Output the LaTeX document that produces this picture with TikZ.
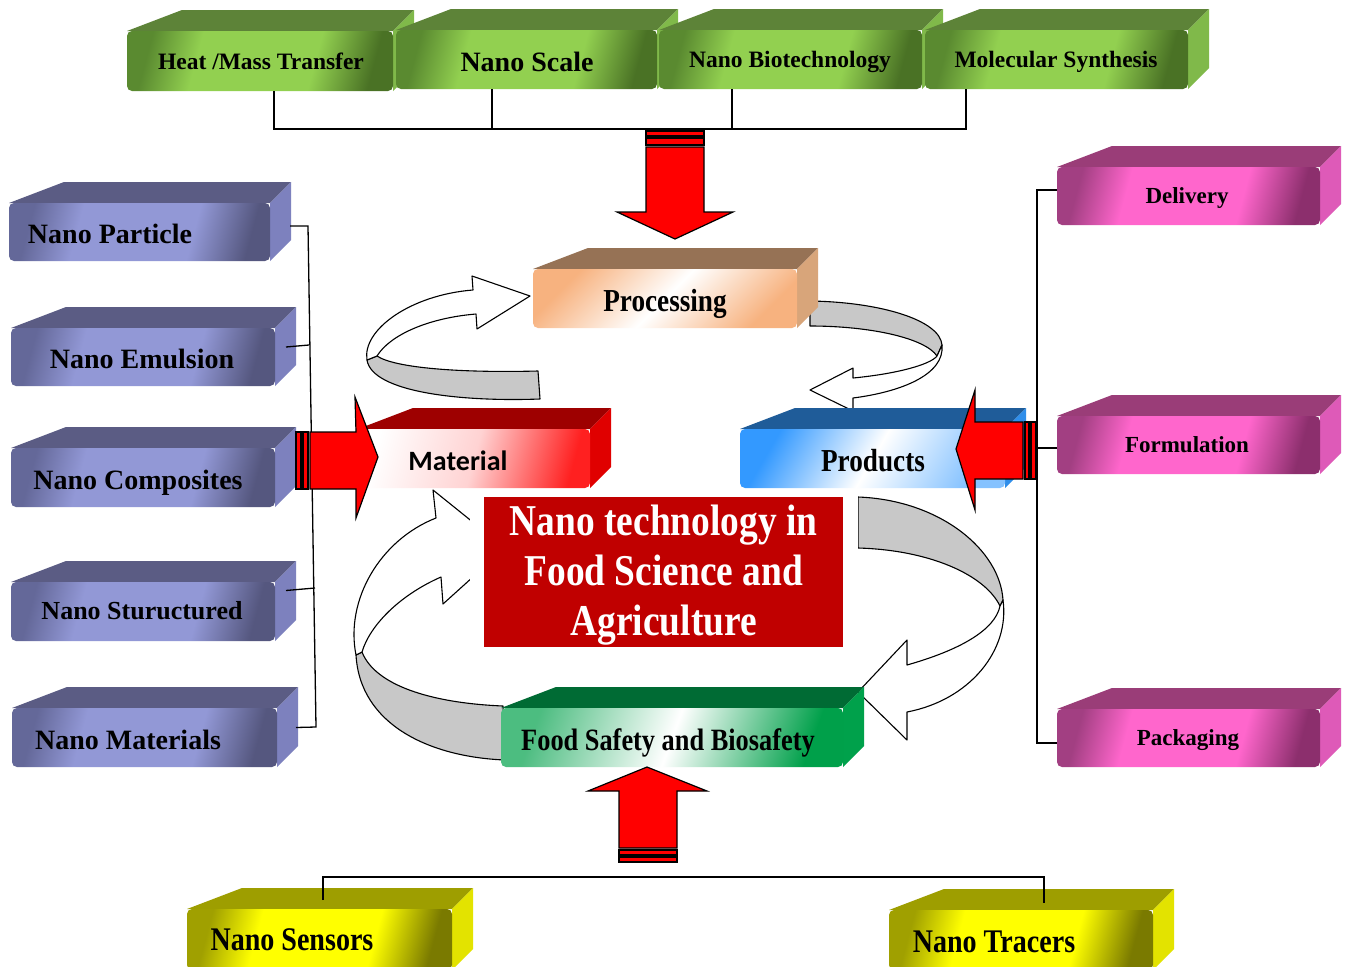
\documentclass[tikz,border=0pt]{standalone}
\usepackage{fontspec}
\setmainfont{Liberation Serif}
\newfontfamily\condfont{Liberation Serif}[FakeStretch=0.85]
\newfontfamily\calfont{Carlito}
\usetikzlibrary{calc}
% colours
\definecolor{gTop}{HTML}{5D8338}\definecolor{gSide}{HTML}{80B94A}\definecolor{gL}{HTML}{92D050}\definecolor{gD}{HTML}{5A8A30}\definecolor{gE}{HTML}{4A7225}
\definecolor{pTop}{HTML}{5B5C84}\definecolor{pSide}{HTML}{7D81BE}\definecolor{pL}{HTML}{9298D6}\definecolor{pD}{HTML}{646899}\definecolor{pE}{HTML}{55577F}
\definecolor{kTop}{HTML}{9A3D78}\definecolor{kSide}{HTML}{DE5AB8}\definecolor{kL}{HTML}{FF66CC}\definecolor{kD}{HTML}{A23F82}\definecolor{kE}{HTML}{8C2F6D}
\definecolor{yTop}{HTML}{9E9E00}\definecolor{ySide}{HTML}{E3E300}\definecolor{yL}{HTML}{FFFF00}\definecolor{yD}{HTML}{A0A000}\definecolor{yE}{HTML}{7A7A00}
\definecolor{oTop}{HTML}{967255}\definecolor{oSide}{HTML}{D8A57A}\definecolor{oL}{HTML}{F7B27F}
\definecolor{rTop}{HTML}{9E0000}\definecolor{rSide}{HTML}{E00000}\definecolor{rL}{HTML}{FF2020}
\definecolor{bTop}{HTML}{1F5C99}\definecolor{bSide}{HTML}{2F8EEA}\definecolor{bL}{HTML}{3399FF}
\definecolor{fTop}{HTML}{006B34}\definecolor{fSide}{HTML}{00A14B}\definecolor{fL}{HTML}{00A04A}
\definecolor{cRed}{HTML}{C00000}
\definecolor{ribGray}{HTML}{C8C8C8}
\pgfdeclarehorizontalshading{gsh}{100bp}{color(0bp)=(gD); color(25bp)=(gD); color(36bp)=(gL); color(62bp)=(gL); color(75bp)=(gE); color(100bp)=(gE)}
\pgfdeclarehorizontalshading{psh}{100bp}{color(0bp)=(pD); color(25bp)=(pD); color(36bp)=(pL); color(62bp)=(pL); color(75bp)=(pE); color(100bp)=(pE)}
\pgfdeclarehorizontalshading{ksh}{100bp}{color(0bp)=(kD); color(25bp)=(kD); color(36bp)=(kL); color(62bp)=(kL); color(75bp)=(kE); color(100bp)=(kE)}
\pgfdeclarehorizontalshading{ysh}{100bp}{color(0bp)=(yD); color(25bp)=(yD); color(36bp)=(yL); color(62bp)=(yL); color(75bp)=(yE); color(100bp)=(yE)}
% 3D box: name, x1, y1, x2, y2, family
\newcommand\cubebox[6]{%
  \fill[#6Top] (#2,#3) -- (#2+55,#3-21) -- (#4+21,#3-21) -- (#4,#3) -- cycle;
  \fill[#6Side] (#4,#3) -- (#4+21,#3-21) -- (#4+21,#5-21) -- (#4,#5) -- cycle;
  \node[#6front, anchor=north west, inner sep=0pt, outer sep=0pt,
        minimum width={#4-#2}, minimum height={#5-#3}] (#1) at (#2,#3) {};
}
\begin{document}
\begin{tikzpicture}[x=1pt,y=-1pt,
  gfront/.style={shading=gsh, shading angle=-15, rounded corners=5pt},
  pfront/.style={shading=psh, shading angle=-15, rounded corners=5pt},
  kfront/.style={shading=ksh, shading angle=-15, rounded corners=5pt},
  yfront/.style={shading=ysh, shading angle=-15, rounded corners=5pt},
  ofront/.style={left color=oL, right color=oL, middle color=white, shading angle=45, rounded corners=5pt},
  rfront/.style={left color=white, right color=rL, middle color=white!80!rL, shading angle=75, rounded corners=5pt},
  bfront/.style={left color=bL, right color=bL!60!white, middle color=white, shading angle=60, rounded corners=5pt},
  ffront/.style={left color=fL!70!white, right color=fL, middle color=white, shading angle=70, rounded corners=5pt},
  txt/.style={anchor=base, inner sep=0pt, text=black},
  conn/.style={draw=black, line width=1.3pt},
  ribbon/.style={fill=white, draw=black, line width=1.1pt, line join=round},
  ribbongray/.style={fill=ribGray, draw=black, line width=1.1pt, line join=round},
  blockarrow/.style={fill=red, draw=black, line width=1.2pt, line join=miter},
]
\useasboundingbox (0,0) rectangle (1345,967);
\fill[white] (0,0) rectangle (1345,967);

% ---------- curved ribbon arrows ----------
% upper left (Material -> Processing)
\path[ribbongray] (367,360) .. controls (372,392) and (460,402) .. (540,399) -- (538,371)
   .. controls (460,373) and (395,368) .. (377,356) -- cycle;
\path[ribbon] (473,290) -- (472,276) -- (530,296) -- (477,329) -- (476,314)
   .. controls (428,318) and (390,335) .. (377,356) -- (367,360)
   .. controls (362,330) and (410,295) .. (473,290) -- cycle;
% upper right (Processing -> Products)
\path[ribbongray] (810,301) .. controls (880,302) and (940,320) .. (942,345) -- (937,356)
   .. controls (925,338) and (870,326) .. (810,326) -- cycle;
\path[ribbon] (942,345) .. controls (945,375) and (900,392) .. (853,398) -- (853,411) -- (810,390)
   -- (853,368) -- (853,378) .. controls (895,374) and (930,365) .. (937,356) -- cycle;
% lower left (Food Safety -> Material)
\path[ribbongray] (356,655) .. controls (360,725) and (430,757) .. (505,760) -- (503,706)
   .. controls (430,703) and (375,685) .. (362,652) -- cycle;
\path[ribbon] (436,518) -- (433,490) -- (505,548) -- (443,604) -- (441,577)
   .. controls (400,595) and (370,625) .. (362,652) -- (356,655)
   .. controls (345,600) and (380,540) .. (436,518) -- cycle;
% lower right (centre -> Food Safety)
\path[ribbongray] (858,497) .. controls (940,500) and (1000,550) .. (1003,600) -- (1000,606)
   .. controls (985,575) and (930,550) .. (858,548) -- cycle;
\path[ribbon] (1003,600) .. controls (1010,650) and (970,700) .. (907,712) -- (907,740) -- (858,692)
   -- (907,640) -- (907,665) .. controls (960,650) and (995,630) .. (1000,606) -- cycle;

% ---------- centre title ----------
\fill[white] (470,489) rectangle (858,662);
\node[fill=cRed, anchor=north west, inner sep=0pt, minimum width=359, minimum height=150] (title) at (484,497) {};
\node[align=center, text=white, inner sep=0pt, font=\condfont\fontsize{44}{50}\selectfont\bfseries]
   (title-t) at ($(title.center)+(0,3)$) {Nano technology in\\Food Science and\\Agriculture};

% ---------- boxes ----------
\cubebox{heat}{127}{31}{393}{91}{g}
\cubebox{nscale}{396}{30}{657}{89}{g}
\cubebox{nbio}{659}{30}{922}{89}{g}
\cubebox{mol}{925}{30}{1188}{89}{g}
\cubebox{npart}{9}{203}{270}{261}{p}
\cubebox{nemul}{11}{328}{275}{386}{p}
\cubebox{ncomp}{11}{448}{275}{507}{p}
\cubebox{nstru}{11}{582}{275}{641}{p}
\cubebox{nmat}{12}{708}{277}{767}{p}
\cubebox{deliv}{1057}{167}{1320}{225}{k}
\cubebox{formu}{1057}{416}{1320}{474}{k}
\cubebox{pack}{1057}{709}{1320}{767}{k}
\cubebox{sens}{187}{909}{452}{970}{y}
\cubebox{trac}{889}{910}{1153}{970}{y}
\cubebox{proc}{533}{269}{797}{328}{o}
\cubebox{mater}{358}{429}{590}{488}{r}
\cubebox{prod}{740}{429}{1005}{488}{b}
\cubebox{food}{501}{708}{843}{767}{f}

% ---------- labels ----------
\node[txt, font=\fontsize{23.5}{28}\selectfont\bfseries] (heat-t) at (261,69) {Heat /Mass Transfer};
\node[txt, font=\fontsize{28}{32}\selectfont\bfseries] (nscale-t) at (527,71) {Nano Scale};
\node[txt, font=\fontsize{23.5}{28}\selectfont\bfseries] (nbio-t) at (790,67) {Nano Biotechnology};
\node[txt, font=\fontsize{23.5}{28}\selectfont\bfseries] (mol-t) at (1056,67) {Molecular Synthesis};
\node[txt, font=\fontsize{28}{32}\selectfont\bfseries] (npart-t) at (110,243) {Nano Particle};
\node[txt, font=\fontsize{28}{32}\selectfont\bfseries] (nemul-t) at (142,368) {Nano Emulsion};
\node[txt, font=\fontsize{28}{32}\selectfont\bfseries] (ncomp-t) at (138,489) {Nano Composites};
\node[txt, font=\fontsize{26}{30}\selectfont\bfseries] (nstru-t) at (142,619) {Nano Stuructured};
\node[txt, font=\fontsize{28}{32}\selectfont\bfseries] (nmat-t) at (128,749) {Nano Materials};
\node[txt, font=\fontsize{23}{27}\selectfont\bfseries] (deliv-t) at (1187,203) {Delivery};
\node[txt, font=\fontsize{23}{27}\selectfont\bfseries] (formu-t) at (1187,452) {Formulation};
\node[txt, font=\fontsize{23}{27}\selectfont\bfseries] (pack-t) at (1188,745) {Packaging};
\node[txt, font=\condfont\fontsize{32}{36}\selectfont\bfseries] (proc-t) at (665,311) {Processing};
\node[txt, font=\calfont\fontsize{28}{32}\selectfont\bfseries] (mater-t) at (458,470) {Material};
\node[txt, font=\condfont\fontsize{32}{36}\selectfont\bfseries] (prod-t) at (873,471) {Products};
\node[txt, font=\condfont\fontsize{31}{35}\selectfont\bfseries] (food-t) at (668,750) {Food Safety and Biosafety};
\node[txt, font=\condfont\fontsize{33}{37}\selectfont\bfseries] (sens-t) at (292,950) {Nano Sensors};
\node[txt, font=\condfont\fontsize{33}{37}\selectfont\bfseries] (trac-t) at (994,952) {Nano Tracers};

% ---------- bracket connectors ----------
\draw[conn] (heat.south -| 274,0) -- (274,129) -- (966,129) -- (mol.south -| 966,0);
\draw[conn] (nscale.south -| 492,0) -- (492,129);
\draw[conn] (nbio.south -| 732,0) -- (732,129);

\draw[conn] ($(npart.east)+(20,-6)$) -- (308,226) -- (316,727) -- ($(nmat.east)+(19,-10)$);
\draw[conn] ($(nemul.east)+(11,-10)$) -- (309,345);
\draw[conn] ($(nstru.east)+(11,-21)$) -- (315,588);

\draw[conn] ($(deliv.west)+(0,-6)$) -- (1037,190) -- (1037,743) -- ($(pack.west)+(0,5)$);
\draw[conn] ($(formu.west)+(0,3)$) -- (1037,448);

\draw[conn] ($(sens.north west)+(136,-9)$) -- (323,877) -- (1044,877) -- ($(trac.north west)+(155,-7)$);

% ---------- red block arrows ----------
% down into Processing
\path[blockarrow] (646,131) rectangle (704,136);
\path[blockarrow] (646,138) rectangle (704,145);
\path[blockarrow] (646,147) -- (704,147) -- (704,212) -- (733,212) -- (675,239) -- (617,212) -- (646,212) -- cycle;
% up into Food Safety
\path[blockarrow] (619,857) rectangle (677,862);
\path[blockarrow] (619,850) rectangle (677,855);
\path[blockarrow] (619,848) -- (677,848) -- (677,791) -- (707,791) -- (647,767) -- (588,791) -- (619,791) -- cycle;
% right into Material
\path[blockarrow] (296,432) rectangle (301,489);
\path[blockarrow] (303,432) rectangle (308,489);
\path[blockarrow] (310,432) -- (356,432) -- (355,397) -- (378,457) -- (356,518) -- (356,489) -- (310,489) -- cycle;
% left into Products
\path[blockarrow] (1031,422) rectangle (1036,479);
\path[blockarrow] (1025,422) rectangle (1029,479);
\path[blockarrow] (1023,422) -- (975,422) -- (975,390) -- (956,449) -- (975,510) -- (975,479) -- (1023,479) -- cycle;
\end{tikzpicture}
\end{document}
